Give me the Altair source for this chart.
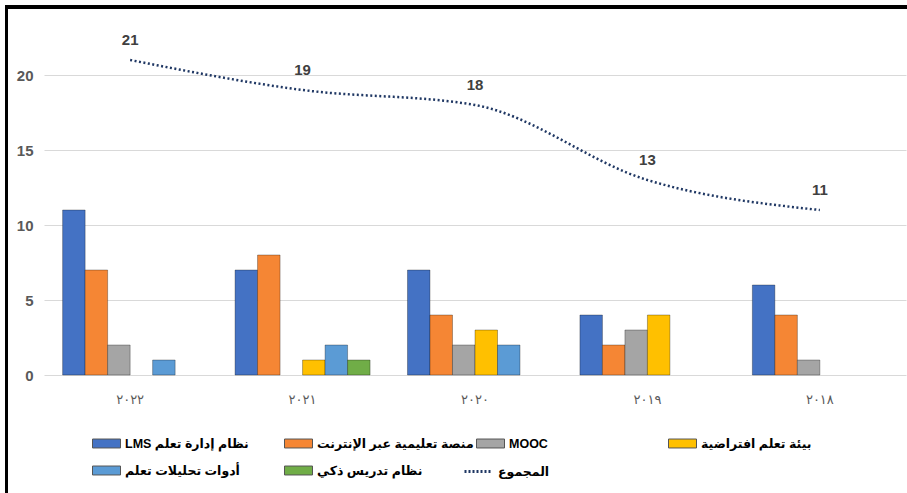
import altair as alt
import pandas as pd

years = ["٢٠٢٢", "٢٠٢١", "٢٠٢٠", "٢٠١٩", "٢٠١٨"]
series = [
    "\u202bنظام إدارة تعلم LMS\u202c",
    "منصة تعليمية عبر الإنترنت",
    "MOOC",
    "بيئة تعلم افتراضية",
    "أدوات تحليلات تعلم",
    "نظام تدريس ذكي",
]
lms = [11, 7, 7, 4, 6]
online = [7, 8, 4, 2, 4]
mooc = [2, 0, 2, 3, 1]
virtual = [0, 1, 3, 4, 0]
analytics = [1, 2, 2, 0, 0]
its = [0, 1, 0, 0, 0]
totals = [21, 19, 18, 13, 11]
total_name = "المجموع"
bar_colors = ["#4472c4", "#f58634", "#a5a5a5", "#ffc000", "#5b9bd5", "#70ad47"]
line_color = "#203864"

rows = []
for s, vals in zip(series, [lms, online, mooc, virtual, analytics, its]):
    for y, v in zip(years, vals):
        rows.append({"year": y, "series": s, "value": v})
bars_df = pd.DataFrame(rows)
tot_df = pd.DataFrame({"year": years, "value": totals, "series": [total_name] * len(years)})

FONT = "'Liberation Sans Narrow', 'Liberation Sans', 'DejaVu Sans', sans-serif"

common_legend = dict(
    title=None,
    orient="none",
    labelFontSize=12.5,
    labelFontWeight="bold",
    labelColor="#000000",
    labelFont=FONT,
    labelOffset=4,
    labelLimit=400,
)

bar_legend = alt.Legend(
    legendX=48,
    legendY=429,
    columns=4,
    direction="horizontal",
    gridAlign="all",
    columnPadding=0,
    rowPadding=6,
    symbolSize=784,
    symbolType="M-1,-0.32H1V0.32H-1Z",
    symbolStrokeColor="#555555",
    symbolStrokeWidth=1,
    values=series,
    **common_legend,
)
line_legend = alt.Legend(
    legendX=419,
    legendY=456,
    symbolType="stroke",
    symbolSize=784,
    symbolDash=[2, 2],
    symbolStrokeWidth=3,
    **common_legend,
)

y_scale = alt.Scale(domain=[0, 25], nice=False, zero=True)

x_enc = alt.X(
    "year:N",
    sort=years,
    scale=alt.Scale(paddingInner=0.217, paddingOuter=0.108),
    axis=alt.Axis(
        title=None, labelAngle=0, domain=False, ticks=False, grid=False,
        labelPadding=18, labelFontSize=13, labelColor="#595959", labelFont=FONT,
    ),
)
y_enc = alt.Y(
    "value:Q",
    scale=y_scale,
    axis=alt.Axis(
        title=None, values=[0, 5, 10, 15, 20], domain=False, ticks=False,
        labelPadding=11, gridColor="#d9d9d9", gridWidth=1.2, labelFontSize=15,
        labelColor="#595959", labelFontWeight="bold", labelFont=FONT,
    ),
)

bars = (
    alt.Chart(bars_df)
    .transform_filter("datum.value > 0")
    .mark_bar(stroke="#000000", strokeOpacity=0.3, strokeWidth=1)
    .encode(
        x=x_enc,
        xOffset=alt.XOffset("series:N", sort=series,
                            scale=alt.Scale(domain=series, paddingInner=0, paddingOuter=0)),
        y=y_enc,
        fill=alt.Fill("series:N", sort=series,
                      scale=alt.Scale(domain=series, range=bar_colors), legend=bar_legend),
    )
)

line = (
    alt.Chart(tot_df)
    .mark_line(interpolate="monotone", strokeDash=[2, 2.5], strokeWidth=2.5)
    .encode(
        x=alt.X("year:N", sort=years),
        y=alt.Y("value:Q", scale=y_scale),
        stroke=alt.Stroke("series:N", scale=alt.Scale(domain=[total_name], range=[line_color]),
                          legend=line_legend),
    )
)

labels = (
    alt.Chart(tot_df)
    .mark_text(dy=-20, fontSize=15, fontWeight="bold", color="#404040", font=FONT)
    .encode(x=alt.X("year:N", sort=years), y=alt.Y("value:Q", scale=y_scale), text="value:Q")
)

frame_df = pd.DataFrame({"k": [0]})
top_rule = alt.Chart(frame_df).mark_rule(color="#000000", strokeWidth=4).encode(
    x=alt.value(-39), x2=alt.value(863), y=alt.value(7)
)
left_rule = alt.Chart(frame_df).mark_rule(color="#000000", strokeWidth=3).encode(
    x=alt.value(-37.5), y=alt.value(5), y2=alt.value(493)
)

chart = (
    alt.layer(bars, line, labels, top_rule, left_rule)
    .properties(
        width=862,
        height=375,
        autosize=alt.AutoSizeParams(type="none"),
        padding={"left": 44, "top": 0, "right": 1, "bottom": 118},
        background="white",
    )
    .configure_view(stroke=None)
)

chart.save("out.html", embed_options={"renderer": "svg", "actions": False})
